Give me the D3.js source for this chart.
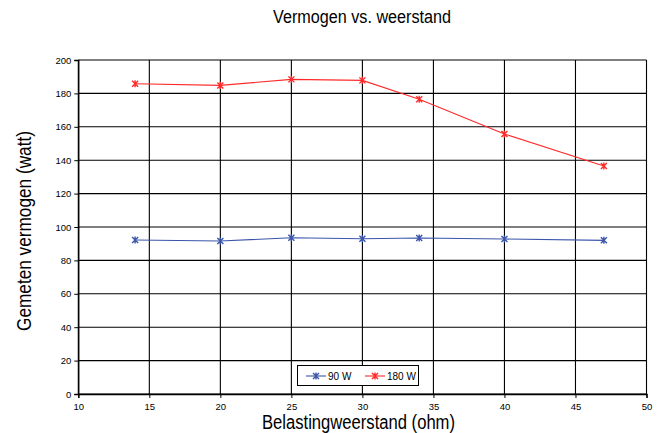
<!DOCTYPE html>
<html>
<head>
<meta charset="utf-8">
<script src="https://cdn.jsdelivr.net/npm/d3@7"></script>
<style>
  html, body { margin: 0; padding: 0; background: #fff; }
  svg { display: block; }
  .tick text { font-family: "Liberation Sans", Arial, sans-serif; font-size: 9.5px; fill: #000; }
</style>
</head>
<body>
<svg id="chart" width="660" height="433"></svg>
<script>
// Measured load resistance (ohm)
const resistance = [14, 20, 25, 30, 34, 40, 47];
// Measured power (watt) per amplifier setting
const power90W  = [92.2, 91.6, 93.6, 93.0, 93.4, 92.8, 92.0];
const power180W = [185.8, 184.8, 188.4, 187.8, 176.5, 155.7, 136.5];
const seriesNames = ["90 W", "180 W"];
const xTicks = [10, 15, 20, 25, 30, 35, 40, 45, 50];
const yTicks = [0, 20, 40, 60, 80, 100, 120, 140, 160, 180, 200];

const svg = d3.select("#chart");
const plot = { left: 78.3, right: 646.5, top: 60, bottom: 394 };

const x = d3.scaleLinear().domain([10, 50]).range([plot.left, plot.right]);
const y = d3.scaleLinear().domain([0, 200]).range([plot.bottom, plot.top]);

const narrow = "'Liberation Sans Narrow', 'Arial Narrow', 'Liberation Sans', Arial, sans-serif";

// Grid
const grid = svg.append("g");
grid.selectAll("line.h").data(yTicks).join("line").attr("class", "h")
  .attr("x1", plot.left).attr("x2", plot.right)
  .attr("y1", d => y(d)).attr("y2", d => y(d))
  .attr("stroke", "#000").attr("stroke-width", 1.1);
grid.selectAll("line.v").data(xTicks).join("line").attr("class", "v")
  .attr("y1", plot.top).attr("y2", plot.bottom)
  .attr("x1", d => x(d)).attr("x2", d => x(d))
  .attr("stroke", "#000").attr("stroke-width", 1.1);

// Axes
const yAxis = d3.axisLeft(y).tickValues(yTicks).tickSize(4).tickPadding(3);
const xAxis = d3.axisBottom(x).tickValues(xTicks).tickSize(4).tickPadding(5);
const gy = svg.append("g").attr("transform", `translate(${plot.left},0)`).call(yAxis);
const gx = svg.append("g").attr("transform", `translate(0,${plot.bottom})`).call(xAxis);
[gy, gx].forEach(g => {
  g.select(".domain").attr("stroke", "#000").attr("stroke-width", 1.3);
  g.selectAll(".tick line").attr("stroke", "#000");
});

// Series
const series = [
  { name: seriesNames[0], values: power90W, color: "#3a55aa" },
  { name: seriesNames[1], values: power180W, color: "#ff2a2a" }
];
const starPath = "M-3,-3L3,3M-3,3L3,-3M0,-3.5L0,3.5";
const line = d3.line().x(d => x(d[0])).y(d => y(d[1]));

series.forEach(s => {
  const pts = resistance.map((r, i) => [r, s.values[i]]);
  svg.append("path").datum(pts)
    .attr("d", line).attr("fill", "none")
    .attr("stroke", s.color).attr("stroke-width", 1.1);
  svg.append("g").selectAll("path").data(pts).join("path")
    .attr("transform", d => `translate(${x(d[0])},${y(d[1])})`)
    .attr("d", starPath).attr("fill", "none")
    .attr("stroke", s.color).attr("stroke-width", 1.4);
});

// Legend
const lg = svg.append("g");
lg.append("rect").attr("x", 297.5).attr("y", 365.5).attr("width", 121).attr("height", 20)
  .attr("fill", "#fff").attr("stroke", "#000").attr("stroke-width", 1);
const legendX = [306, 365];
series.forEach((s, i) => {
  const lx = legendX[i];
  lg.append("line").attr("x1", lx).attr("x2", lx + 20).attr("y1", 376).attr("y2", 376)
    .attr("stroke", s.color).attr("stroke-width", 1.1);
  lg.append("path").attr("transform", `translate(${lx + 10},376)`)
    .attr("d", starPath).attr("fill", "none").attr("stroke", s.color).attr("stroke-width", 1.4);
  lg.append("text").attr("x", lx + 22).attr("y", 379.5)
    .attr("font-family", "'Liberation Sans', Arial, sans-serif").attr("font-size", 10)
    .text(s.name);
});

// Titles
svg.append("text").attr("x", 362).attr("y", 23).attr("text-anchor", "middle")
  .attr("font-family", narrow).attr("font-size", 18)
  .attr("textLength", 178).attr("lengthAdjust", "spacingAndGlyphs")
  .text("Vermogen vs. weerstand");
svg.append("text").attr("x", 358.5).attr("y", 429).attr("text-anchor", "middle")
  .attr("font-family", narrow).attr("font-size", 20)
  .attr("textLength", 193).attr("lengthAdjust", "spacingAndGlyphs")
  .text("Belastingweerstand (ohm)");
svg.append("text").attr("transform", "translate(31,231) rotate(-90)").attr("text-anchor", "middle")
  .attr("font-family", narrow).attr("font-size", 20)
  .attr("textLength", 200).attr("lengthAdjust", "spacingAndGlyphs")
  .text("Gemeten vermogen (watt)");
</script>
</body>
</html>
